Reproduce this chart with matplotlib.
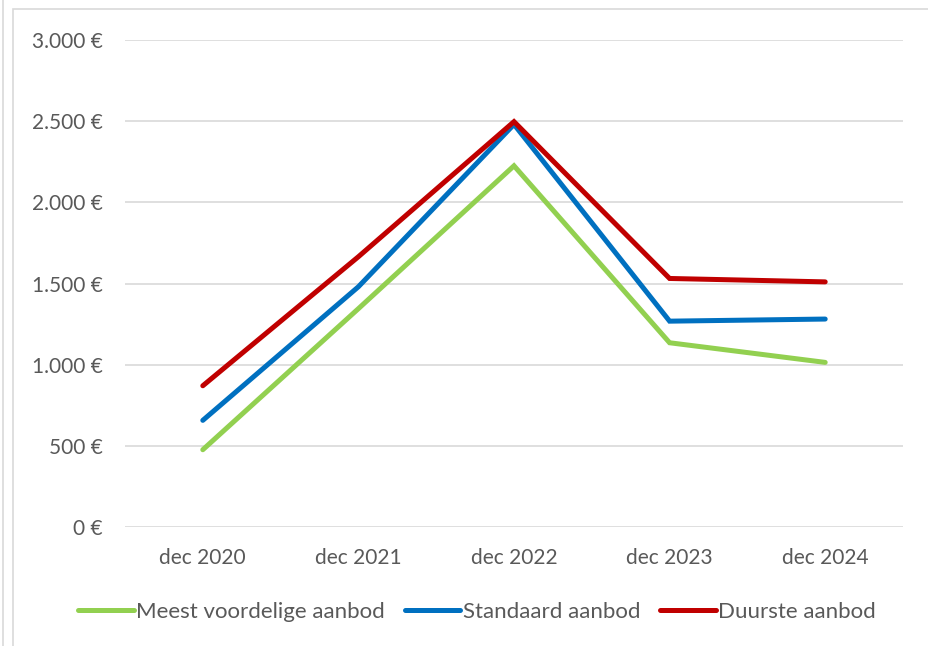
import matplotlib.pyplot as plt
from matplotlib.lines import Line2D
from matplotlib.patches import Rectangle
from matplotlib.ticker import FuncFormatter

# Data
maanden = ['dec 2020', 'dec 2021', 'dec 2022', 'dec 2023', 'dec 2024']
voordelig = [476, 1345, 2225, 1135, 1014]
standaard = [657, 1480, 2480, 1268, 1281]
duurste = [870, 1665, 2497, 1531, 1510]

plt.rcParams['font.family'] = ['Lato', 'DejaVu Sans']
tekstkleur = '#595959'

fig = plt.figure(figsize=(9.29, 6.46), dpi=100)
ax = fig.add_axes([125 / 929, 1 - 527 / 646, 778 / 929, 487 / 646])

x = range(len(maanden))
ax.plot(x, voordelig, color='#92D050', lw=3.6, solid_capstyle='round', solid_joinstyle='miter',
        label='Meest voordelige aanbod')
ax.plot(x, standaard, color='#0070C0', lw=3.6, solid_capstyle='round', solid_joinstyle='miter',
        label='Standaard aanbod')
ax.plot(x, duurste, color='#C00000', lw=3.6, solid_capstyle='round', solid_joinstyle='miter',
        label='Duurste aanbod')

ax.set_xlim(-0.5, len(maanden) - 0.5)
ax.set_ylim(0, 3000)
ax.set_yticks(range(0, 3001, 500))
ax.yaxis.set_major_formatter(FuncFormatter(lambda v, p: f'{int(v):,} €'.replace(',', '.')))
ax.set_xticks(list(x))
ax.set_xticklabels(maanden)
ax.tick_params(length=0, labelsize=15, colors=tekstkleur)
ax.tick_params(axis='y', pad=16)
ax.tick_params(axis='x', pad=15)
ax.grid(axis='y', color='#d9d9d9', lw=1.2)
ax.set_axisbelow(True)
for s in ax.spines.values():
    s.set_visible(False)

# frame lines
fig.add_artist(Rectangle((13 / 929, -0.1), 1.0, 1 - 9 / 646 + 0.1, transform=fig.transFigure,
                         fill=False, edgecolor='#d9d9d9', lw=1.2))
fig.add_artist(Line2D([3 / 929, 3 / 929], [0, 1], transform=fig.transFigure, color='#d9d9d9', lw=1.2))

ax.legend(loc='center', bbox_to_anchor=(477 / 929, 1 - 612 / 646), bbox_transform=fig.transFigure,
          ncol=3, frameon=False, fontsize=16, labelcolor=tekstkleur, handlelength=2.5,
          handletextpad=0.1, columnspacing=0.9)

fig.savefig('out.png', dpi=100)
